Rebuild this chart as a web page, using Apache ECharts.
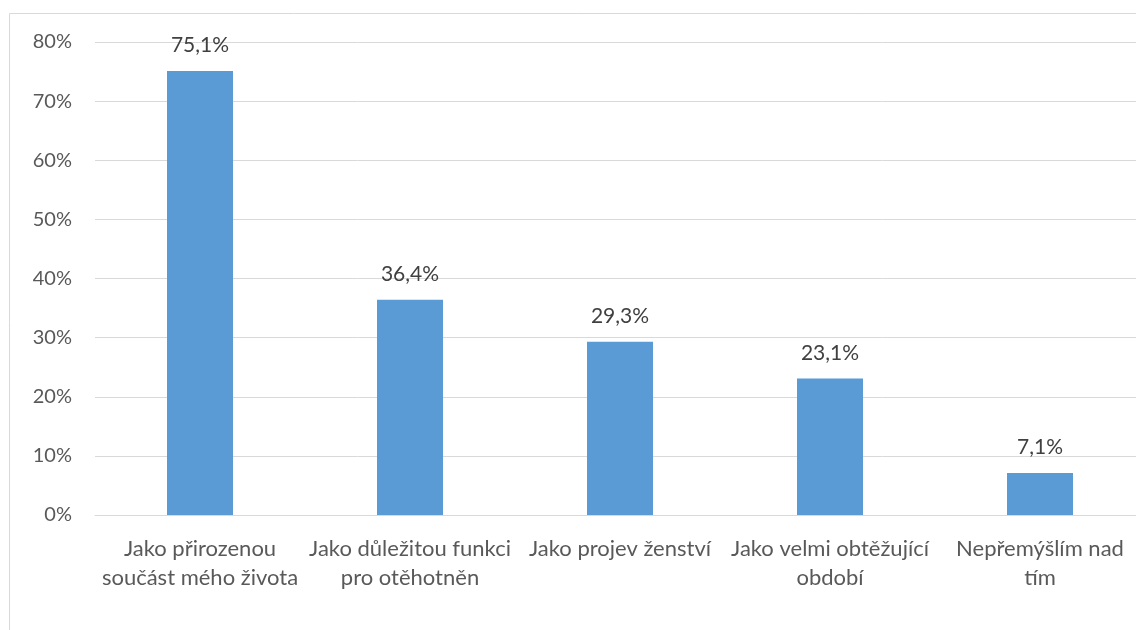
<!DOCTYPE html>
<html>
<head>
<meta charset="utf-8">
<script src="https://cdn.jsdelivr.net/npm/echarts@6/dist/echarts.min.js"></script>
<style>
html,body{margin:0;padding:0;background:#fff;overflow:hidden;width:1136px;height:630px;}
#c{width:1145px;height:630px;}
</style>
</head>
<body>
<div id="c"></div>
<script>
const categories = [
  "Jako přirozenou\nsoučást mého života",
  "Jako důležitou funkci\npro otěhotněn",
  "Jako projev ženství",
  "Jako velmi obtěžující\nobdobí",
  "Nepřemýšlím nad\ntím"
];
const values = [75.1, 36.4, 29.3, 23.1, 7.1];
const yTicks = [0, 10, 20, 30, 40, 50, 60, 70, 80];

const FONT = "Lato";
const chart = echarts.init(document.getElementById('c'), null, {renderer: 'canvas'});
chart.setOption({
  animation: false,
  backgroundColor: '#ffffff',
  graphic: [{
    type: 'rect',
    shape: {x: 9.5, y: 13.5, width: 1200, height: 700},
    style: {fill: 'none', stroke: '#d9d9d9', lineWidth: 1},
    silent: true,
    z: -1
  }],
  grid: {left: 95, top: 42, bottom: 115, right: 0, containLabel: false},
  xAxis: {
    type: 'category',
    data: categories,
    axisLine: {show: true, lineStyle: {color: '#d9d9d9', width: 1}},
    axisTick: {show: false},
    axisLabel: {
      color: '#595959', fontFamily: FONT, fontSize: 22,
      margin: 19, lineHeight: 29, interval: 0, align: 'center'
    }
  },
  yAxis: {
    type: 'value',
    min: yTicks[0],
    max: yTicks[yTicks.length - 1],
    interval: yTicks[1] - yTicks[0],
    axisLine: {show: false},
    axisTick: {show: false},
    splitLine: {lineStyle: {color: '#d9d9d9', width: 1}},
    axisLabel: {
      color: '#595959', fontFamily: FONT, fontSize: 20, margin: 23,
      formatter: v => v + '%'
    }
  },
  series: [{
    type: 'bar',
    data: values,
    barWidth: 66,
    itemStyle: {color: '#5b9bd5'},
    label: {
      show: true, position: 'top', distance: 15,
      color: '#404040', fontFamily: FONT, fontSize: 21,
      formatter: p => p.value.toFixed(1).replace('.', ',') + '%'
    }
  }]
});
</script>
</body>
</html>
